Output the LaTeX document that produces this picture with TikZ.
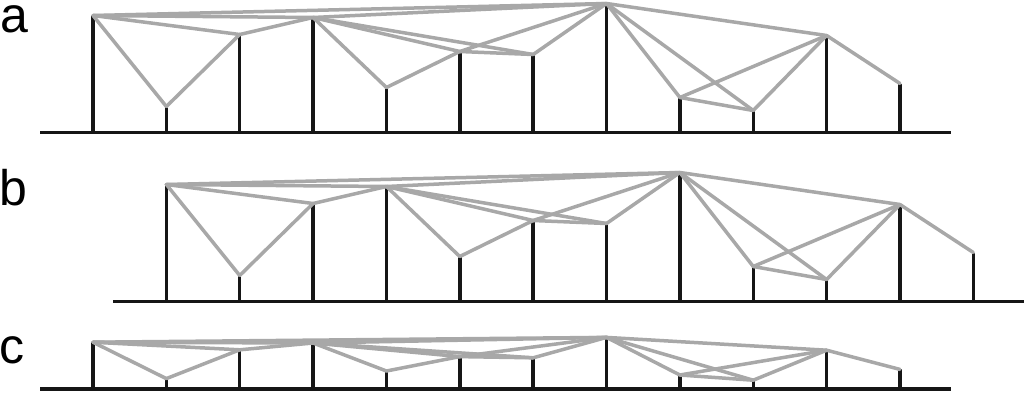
\documentclass[tikz,border=0pt]{standalone}
\usepackage{fontspec}
\setmainfont{Liberation Sans}
\definecolor{linkgray}{RGB}{168,168,168}
\definecolor{barblack}{RGB}{22,22,22}

\begin{document}
\begin{tikzpicture}[x=1pt,y=-1pt,
    bar/.style={line width=3.5pt, barblack},
    base/.style={line width=3.8pt, barblack},
    link/.style={line width=3.5pt, linkgray, line cap=round},
    tag/.style={anchor=base west, inner sep=0pt, font=\fontsize{50}{50}\selectfont}]
  \useasboundingbox (0,0) rectangle (1025,405);

  %Beschriftung
  \node[tag] (la) at (0.5,32.5) {a};
  \node[tag] (lb) at (-1,205) {b};
  \node[tag] (lc) at (-1,363) {c};

  \foreach \p/\dx/\by/\s in {a/0/132.5/1, b/73.36/301.5/1, c/0/389/0.4}{
    %Grundlinie
    \coordinate (\p-left) at (40+\dx,\by);
    \coordinate (\p-right) at (951+\dx,\by);
    \draw[base] (\p-left) -- (\p-right);

    %Balken
    \foreach \h [count=\i] in {117,26,98,115,45,81,78,129,35,22,97,49}{
      \coordinate (\p\i) at (93+\dx+73.36*\i-73.36, \by-\s*\h);
      \draw[bar] (\p\i) -- (\p\i |- \p-left);
    }

    %Sichtlinien
    \foreach \i/\j in {1/2,1/3,1/4,1/8,2/3,3/4,4/5,4/6,4/7,4/8,5/6,6/7,6/8,7/8,
                       8/9,8/10,8/11,9/10,9/11,10/11,11/12}
      \draw[link] (\p\i) -- (\p\j);
  }
\end{tikzpicture}
\end{document}
